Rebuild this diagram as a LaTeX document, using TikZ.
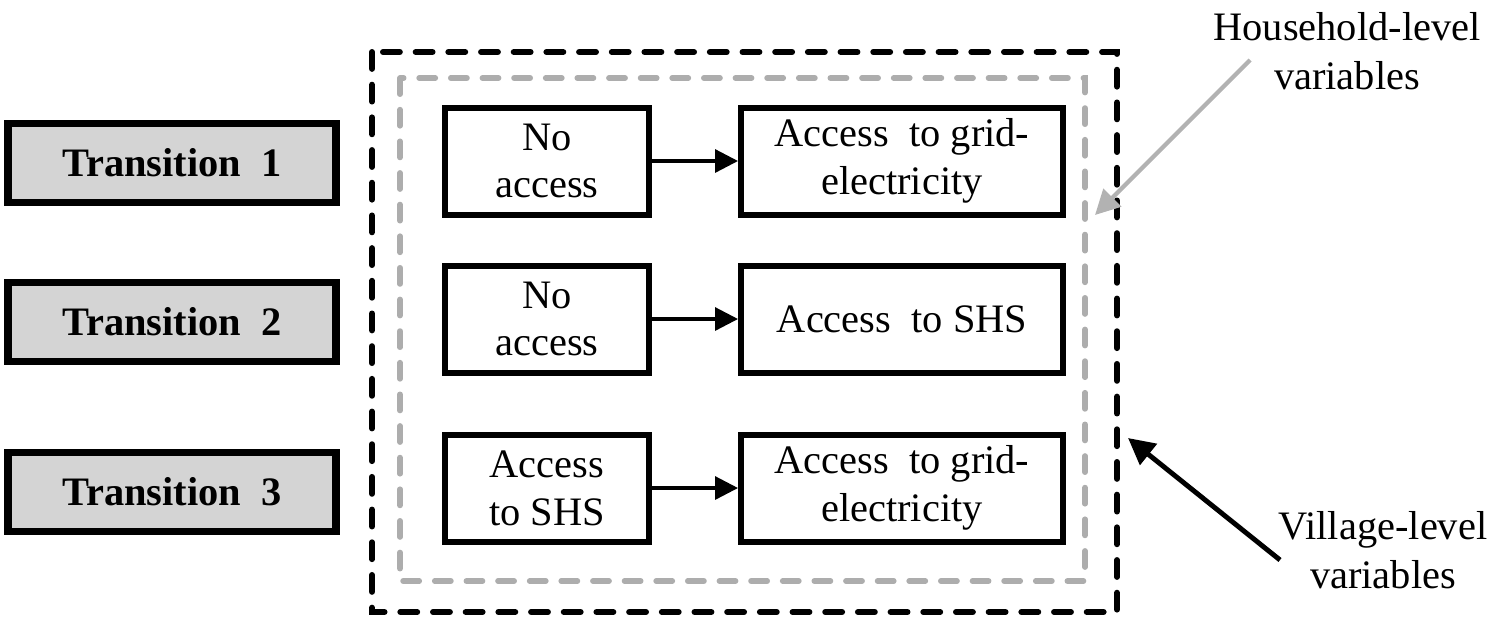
\documentclass[tikz,border=0pt]{standalone}
\usepackage{fontspec}
\setmainfont{Liberation Serif}
\usetikzlibrary{arrows.meta}
\tikzset{
	transbox/.style={draw=black, line width=2pt, fill=black!17, minimum width=32.8mm, minimum height=7.9mm, inner sep=0pt, font=\fontsize{11.5pt}{13.6pt}\selectfont\bfseries},
	statebox/.style={draw=black, line width=1.7pt, align=center, minimum height=10.7mm, inner sep=0pt, font=\fontsize{11.5pt}{13.6pt}\selectfont},
	flow/.style={-{Triangle[length=6.5pt,width=6.5pt]}, line width=0.9pt},
	note/.style={align=center, font=\fontsize{11.5pt}{14pt}\selectfont}
}

\begin{document}
\begin{tikzpicture}[x=0.1mm, y=-0.1mm]
			%%%%% START %%%%%
			\useasboundingbox (0, 0) rectangle (1500, 625);
			
			% levels
			\draw[line width=1.7pt, line cap=round, dash pattern=on 4.8pt off 4.5pt] (372, 52) rectangle (1117, 612);
			\draw[line width=1.6pt, line cap=round, dash pattern=on 4.6pt off 4.4pt, color=black!32] (400, 78) rectangle (1085, 581);
			
			% transitions
			\node[transbox] (trans1) at (172, 163) {Transition~ 1};
			\node[transbox] (trans2) at (172, 322) {Transition~ 2};
			\node[transbox] (trans3) at (172, 492) {Transition~ 3};
			
			% states before
			\node[statebox, minimum width=20.4mm] (from1) at (547, 161) {No\\access};
			\node[statebox, minimum width=20.4mm] (from2) at (547, 319) {No\\access};
			\node[statebox, minimum width=20.4mm] (from3) at (547, 488) {Access\\to SHS};
			
			% states after
			\node[statebox, minimum width=32.2mm] (to1) at (902, 161) {Access~ to grid-\\electricity};
			\node[statebox, minimum width=32.2mm] (to2) at (902, 319) {Access~ to SHS};
			\node[statebox, minimum width=32.2mm] (to3) at (902, 488) {Access~ to grid-\\electricity};
			
			\draw[flow] (from1) -- (to1);
			\draw[flow] (from2) -- (to2);
			\draw[flow] (from3) -- (to3);
			
			% labels
			\node[note] (hhlabel) at (1347, 51) {Household-level\\variables};
			\node[note] (vllabel) at (1383, 550) {Village-level\\variables};
			
			\coordinate (hhtail) at (1250, 60);
			\coordinate (hhtip) at (1095, 215);
			\coordinate (vltail) at (1280, 560);
			\coordinate (vltip) at (1128, 438);
			\draw[-{Triangle[length=7pt,width=7pt]}, line width=1.2pt, color=black!30] (hhtail) -- (hhtip);
			\draw[-{Triangle[length=7.5pt,width=7.5pt]}, line width=1.4pt] (vltail) -- (vltip);
			
			%%%%% END %%%%%
		\end{tikzpicture}
\end{document}
